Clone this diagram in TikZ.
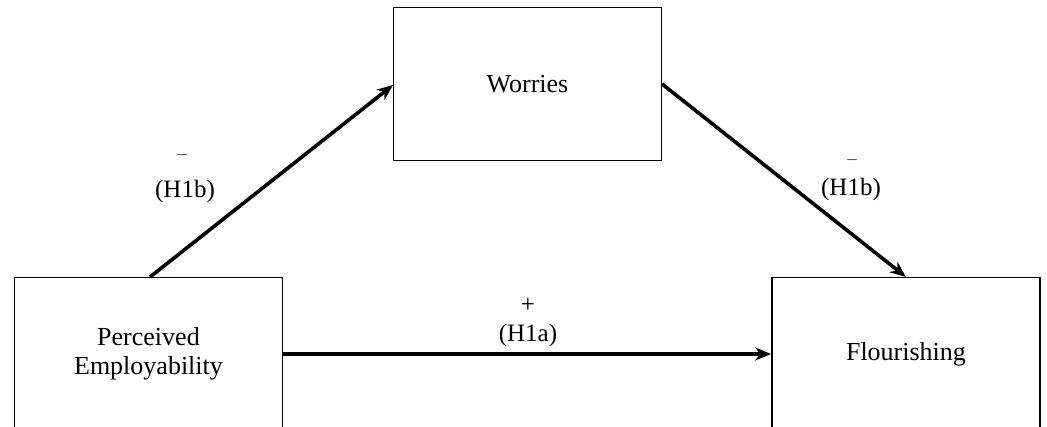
\documentclass[tikz,border=0pt]{standalone}
\usepackage{fontspec}
\setmainfont{Liberation Serif}
\usetikzlibrary{arrows.meta}
\begin{document}
\begin{tikzpicture}[x=1pt,y=-1pt,
  box/.style={draw=black,line width=1.8pt,inner sep=0pt,minimum width=268pt,minimum height=153pt,align=center,font=\fontsize{26}{29}\selectfont},
  lab/.style={inner sep=0pt,font=\fontsize{25}{25}\selectfont},
  sgn/.style={inner sep=0pt,text=black!70,font=\fontsize{19}{19}\selectfont},
  link/.style={line width=3.6pt,-{Stealth[length=16pt,width=13pt]}}]
\useasboundingbox (0,0) rectangle (1047,427);
\node[box] (w) at (527.5,84) {Worries};
\node[box] (pe) at (148.5,354) {Perceived\\Employability};
\node[box] (fl) at (906,354) {Flourishing};
\coordinate (peTop) at (150,277);
\coordinate (wL) at (393,85);
\coordinate (wR) at (662,84);
\coordinate (flTop) at (906,277);
\draw[link] (peTop) -- (wL);
\draw[link] (wR) -- (flTop);
\draw[link] (pe.east) -- (fl.west);
\node[sgn] (s1) at (182,157) {–};
\node[lab] (h1) at (185,191) {(H1b)};
\node[sgn] (s2) at (852,162) {–};
\node[lab] (h2) at (851,189) {(H1b)};
\node[lab] (s3) at (528,305) {+};
\node[lab] (h3) at (528,335) {(H1a)};
\end{tikzpicture}
\end{document}
